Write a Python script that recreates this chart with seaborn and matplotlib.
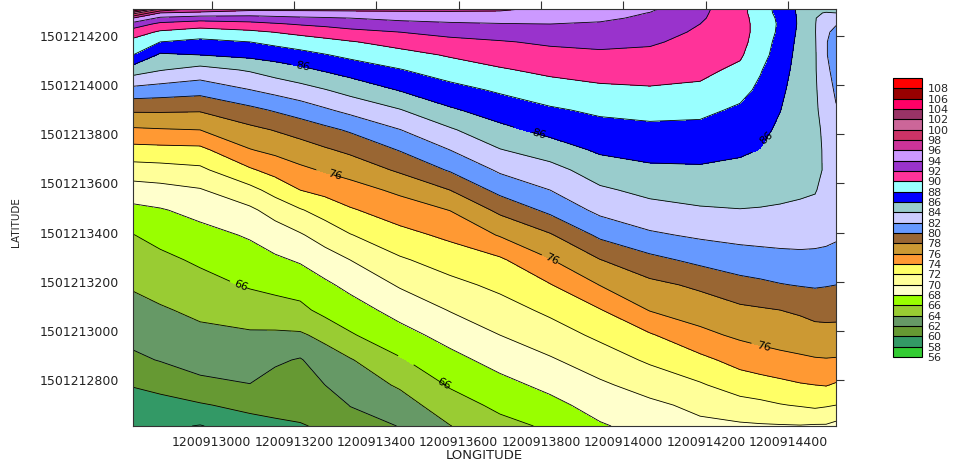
import numpy as np
import matplotlib
matplotlib.use("Agg")
import matplotlib.pyplot as plt
import seaborn as sns

# grid positions
longitude = [1200912809, 1200912875, 1200912972, 1200913093, 1200913154,
             1200913215, 1200913275, 1200913336, 1200913457, 1200913579,
             1200913700, 1200913822, 1200913943, 1200914064, 1200914186,
             1200914283, 1200914332, 1200914380, 1200914429, 1200914465,
             1200914492, 1200914516]
# top -> bottom
latitude = [1501214310, 1501214294, 1501214273, 1501214249, 1501214216,
            1501214176, 1501214123, 1501214062, 1501213980, 1501213899,
            1501213818, 1501213736, 1501213655, 1501213573, 1501213492,
            1501213390, 1501213289, 1501213187, 1501213085, 1501212983,
            1501212882, 1501212780, 1501212698, 1501212613]

# estimated values, one list per longitude column (top -> bottom)
z_cols = [
    [107, 101, 96, 93.2, 91, 89.4, 88, 85, 81.3, 78.3, 75.7, 73.3, 71.1, 69.1, 67.5, 65.95, 65.1, 64.2, 63.4, 62.6, 61.6, 60.1, 59.2, 58.6],
    [100, 96, 93.6, 91.5, 89.7, 88, 85.7, 84.1, 81.05, 78.3, 75.85, 73.4, 71.25, 69.35, 67.85, 66.6, 65.55, 64.7, 63.8, 63.0, 62.1, 60.5, 59.4, 58.4],
    [97.3, 95.6, 93.0, 90.9, 89.1, 87.5, 86, 83.3, 80.7, 78.2, 76, 73.5, 71.6, 69.85, 68.6, 67.35, 66.3, 65.35, 64.4, 63.55, 62.7, 61.55, 59.8, 57.9],
    [96.6, 95.1, 93.1, 91.4, 89.6, 88, 86.5, 84.2, 81.95, 79.5, 77.5, 75.9, 73.75, 71.4, 69.65, 68.2, 67.2, 66.2, 64.95, 63.75, 62.9, 61.95, 60.6, 59.1],
    [96.55, 95.2, 93.4, 91.8, 90.05, 88.5, 86.9, 84.9, 82.6, 80.2, 78.1, 76.5, 74.7, 72.7, 70.75, 69.0, 67.7, 66.55, 65.2, 63.7, 62.3, 61.25, 60.5, 59.7],
    [96.5, 95.3, 93.65, 92.2, 90.5, 89.0, 87.35, 85.55, 83.2, 80.95, 78.75, 77.1, 75.6, 74.0, 71.85, 69.8, 68.2, 66.9, 65.5, 63.75, 61.85, 61.1, 60.5, 59.9],
    [96.5, 95.4, 93.8, 92.5, 90.95, 89.4, 87.9, 86.2, 83.9, 81.75, 79.5, 77.75, 76.2, 74.6, 72.8, 70.85, 69.1, 67.65, 66.6, 64.5, 63.1, 62.0, 61.1, 60.2],
    [96.5, 95.5, 94, 92.85, 91.45, 89.85, 88.45, 86.85, 84.65, 82.55, 80.25, 78.4, 76.75, 75.2, 73.8, 71.9, 70.0, 68.5, 67.15, 65.8, 63.85, 62.85, 62.05, 61.3],
    [96.4, 95.7, 94.5, 93.35, 92.0, 90.75, 89.3, 87.9, 86.1, 83.9, 81.95, 80.1, 78.3, 76.4, 75.0, 73.4, 71.75, 70.2, 68.7, 67.3, 65.8, 64.25, 63.15, 62.05],
    [96.3, 95.8, 94.8, 93.7, 92.6, 91.45, 90.2, 88.95, 87.35, 85.75, 83.75, 82.0, 80.2, 78.0, 76.05, 74.4, 72.9, 71.45, 70.1, 68.7, 67.4, 66.2, 65.1, 63.95],
    [96.3, 95.7, 94.9, 93.9, 92.95, 91.85, 90.9, 89.8, 88.25, 86.9, 85.5, 83.9, 82.3, 80.6, 78.45, 76.15, 73.7, 72.45, 71.2, 70.0, 68.7, 67.4, 66.45, 65.4],
    [95.6, 95.2, 94.6, 94.0, 93.25, 92.3, 91.4, 90.45, 89.1, 87.75, 86.6, 85.0, 83.3, 82.0, 80.5, 77.8, 75.9, 73.9, 72.4, 71.1, 69.8, 68.5, 67.45, 66.3],
    [95.1, 94.75, 94.35, 93.8, 93.25, 92.5, 91.65, 90.8, 89.6, 88.35, 87.3, 86.3, 85.0, 83.7, 82.5, 80.4, 77.95, 76.05, 73.9, 72.4, 71.0, 69.7, 68.75, 67.8],
    [94.3, 93.95, 93.65, 93.3, 92.85, 92.25, 91.55, 90.8, 89.8, 88.6, 87.55, 86.65, 85.65, 84.5, 83.35, 81.7, 79.45, 77.5, 76.1, 73.8, 72.3, 70.75, 69.6, 68.7],
    [92.5, 92.4, 92.25, 92.0, 91.7, 91.4, 90.95, 90.45, 89.65, 88.45, 87.5, 86.65, 85.75, 84.8, 83.8, 82.3, 80.5, 78.35, 76.95, 75.5, 73.5, 71.8, 70.45, 69.6],
    [90.6, 90.6, 90.65, 90.7, 90.7, 90.6, 90.25, 89.6, 88.6, 87.7, 87.0, 86.3, 85.5, 84.75, 83.95, 82.6, 81.05, 79.35, 77.6, 76.35, 74.7, 72.9, 71.3, 69.7],
    [89.0, 89.0, 89.2, 89.3, 89.3, 89.1, 88.8, 88.15, 87.6, 87.05, 86.5, 85.95, 85.3, 84.6, 83.9, 82.65, 81.25, 79.6, 77.8, 76.65, 75.1, 73.2, 71.55, 69.8],
    [87.3, 87.4, 87.6, 87.7, 87.6, 87.3, 87.05, 86.75, 86.4, 86.05, 85.65, 85.25, 84.8, 84.35, 83.85, 82.7, 81.4, 79.9, 78.0, 76.85, 75.45, 73.5, 71.9, 69.85],
    [85.6, 85.6, 85.65, 85.65, 85.55, 85.45, 85.35, 85.25, 85.05, 84.95, 84.8, 84.65, 84.5, 84.25, 83.7, 82.7, 81.5, 80.1, 78.3, 77.0, 75.7, 73.85, 72.15, 69.9],
    [84.5, 84.2, 84.1, 84.1, 84.1, 84.15, 84.2, 84.2, 84.3, 84.35, 84.4, 84.4, 84.35, 84.1, 83.6, 82.6, 81.5, 80.2, 78.65, 77.25, 75.85, 74.0, 72.4, 69.8],
    [84.5, 83.9, 83.2, 82.6, 82.25, 82.1, 82.1, 82.3, 82.6, 83.1, 83.6, 83.75, 83.8, 83.5, 83.2, 82.5, 81.4, 80.1, 78.7, 77.3, 75.9, 74.1, 72.2, 69.8],
    [86.3, 84.0, 83.0, 82.1, 81.6, 81.3, 81.3, 81.5, 81.8, 82.1, 82.6, 83.0, 83.2, 83.2, 83.0, 82.3, 81.2, 80.0, 78.65, 77.3, 75.85, 73.8, 72.0, 69.4],
]

levels = list(range(56, 112, 2))
level_colors = ["#33CC33", "#339966", "#669933", "#669966", "#99CC33", "#99FF00",
                "#FFFFCC", "#FFFF99", "#FFFF66", "#FF9933", "#CC9933", "#996633",
                "#6699FF", "#CCCCFF", "#99CCCC", "#0000FF", "#99FFFF", "#FF3399",
                "#9933CC", "#CC99FF", "#CC3399", "#CC3366", "#CC6699", "#993366",
                "#FF0066", "#990000", "#FF0000"]

label_levels = [66, 76, 86]
label_spots = [(1200913222, 1501214074), (1200913300, 1501213635),
               (1200913069, 1501213179), (1200913562, 1501212780),
               (1200913792, 1501213789), (1200913826, 1501213289),
               (1200914339, 1501212922), (1200914356, 1501213777)]

x_ticks = list(range(1200913000, 1200914600, 200))
y_ticks = list(range(1501212800, 1501214400, 200))

sns.set_style("white")
plt.rcParams["font.family"] = ["DejaVu Sans"]

W, H = 954, 462
fig = plt.figure(figsize=(W / 100, H / 100), dpi=100)
ax = fig.add_axes([133 / W, 36 / H, 703 / W, 417 / H])

X, Y = np.meshgrid(longitude, latitude)
Z = np.array(z_cols).T

cf = ax.contourf(X, Y, Z, levels=levels, colors=level_colors)
plain_levels = [v for v in levels if v not in label_levels]
ax.contour(X, Y, Z, levels=plain_levels, colors="black", linewidths=0.6)
cs = ax.contour(X, Y, Z, levels=label_levels, colors="black", linewidths=0.6)
ax.clabel(cs, manual=label_spots, fontsize=8, inline=True,
          inline_spacing=2, fmt="%d")

ax.set_xlim(longitude[0], longitude[-1])
ax.set_ylim(latitude[-1], latitude[0])
ax.set_xticks(x_ticks)
ax.set_xticklabels([str(v) for v in x_ticks])
ax.set_yticks(y_ticks)
ax.set_yticklabels([str(v) for v in y_ticks])
ax.tick_params(direction="out", length=5.5, width=0.8, color="#333333",
               top=True, right=True, labelsize=9, labelcolor="#222222")
ax.tick_params(axis="y", pad=4.5)
ax.tick_params(axis="x", pad=2)
for sp in ax.spines.values():
    sp.set_color("#333333")
    sp.set_linewidth(0.8)

ax.set_xlabel("LONGITUDE", fontsize=9.5, color="#222222")
ax.xaxis.set_label_coords(0.5, -0.054)
ax.set_ylabel("LATITUDE", fontsize=7.5, color="#222222")
ax.yaxis.set_label_coords(-0.159, 0.49)

cax = fig.add_axes([893 / W, (H - 357) / H, 29 / W, 279 / H])
cbar = fig.colorbar(cf, cax=cax, ticks=levels[:-1], drawedges=True)
cbar.set_ticklabels([str(v) for v in levels[:-1]])
cbar.ax.tick_params(length=0, labelsize=8, pad=4)
cbar.outline.set_edgecolor("black")
cbar.outline.set_linewidth(0.8)
cbar.dividers.set_color("black")
cbar.dividers.set_linewidth(0.8)

fig.savefig("out.png", dpi=100)
